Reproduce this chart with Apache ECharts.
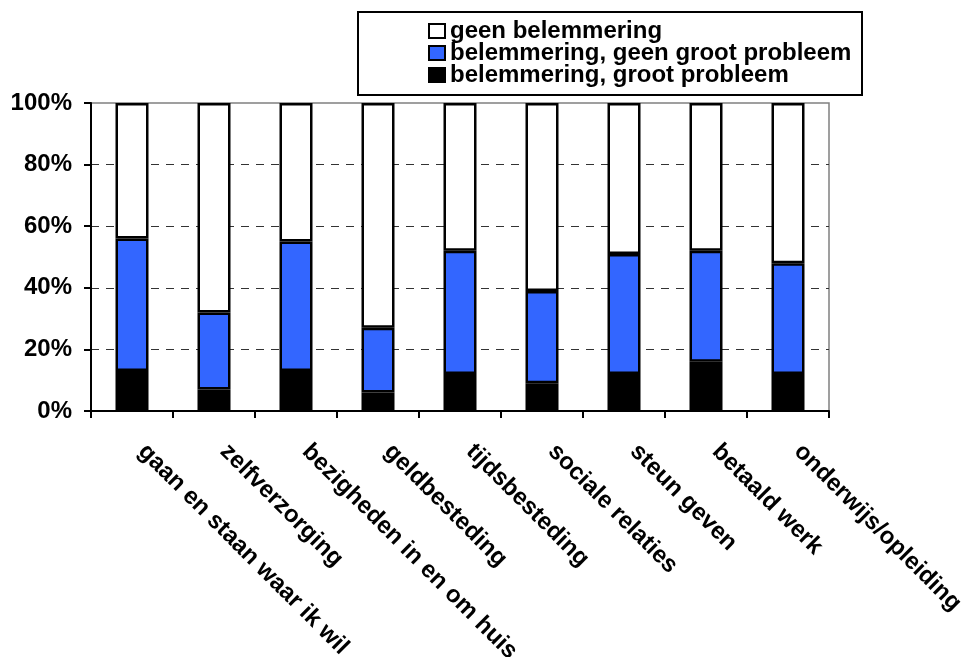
<!DOCTYPE html>
<html><head><meta charset="utf-8">
<script src="https://cdn.jsdelivr.net/npm/echarts@6/dist/echarts.min.js"></script>
<style>html,body{margin:0;padding:0;background:#fff}#c{width:964px;height:657px}</style>
</head><body><div id="c"></div>
<script>
const categories = ['gaan en staan waar ik wil','zelfverzorging','bezigheden in en om huis','geldbesteding','tijdsbesteding','sociale relaties','steun geven','betaald werk','onderwijs/opleiding'];
const grootProbleem = [13, 7, 13, 6, 12, 9, 12, 16, 12];
const geenGrootProbleem = [43, 25, 42, 21, 40, 30, 39, 36, 36];
const geenBelemmering = [44, 68, 45, 73, 48, 61, 49, 48, 52];
const yTicks = [0, 20, 40, 60, 80, 100];
const seriesNames = ['geen belemmering','belemmering, geen groot probleem','belemmering, groot probleem'];

const font = 'Liberation Sans, Arial, sans-serif';
const chart = echarts.init(document.getElementById('c'));
const barStyle = (c) => ({color: c, borderColor: '#000', borderWidth: 2.5});
chart.setOption({
  animation: false,
  grid: {left: 91, right: 135, top: 103, bottom: 246, show: true, borderColor: '#808080', borderWidth: 1.5, backgroundColor: 'transparent', outerBoundsMode: 'none', containLabel: false},
  legend: {
    orient: 'vertical', left: 428, top: 19, itemWidth: 16, itemHeight: 14, itemGap: -2, icon: 'rect',
    data: seriesNames,
    textStyle: {fontFamily: font, fontWeight: 'bold', fontSize: 24, color: '#000', lineHeight: 22},
    padding: 0
  },
  graphic: [{type: 'rect', shape: {x: 358, y: 12, width: 504, height: 83}, style: {fill: 'none', stroke: '#000', lineWidth: 2}, z: 0}],
  xAxis: {
    type: 'category', data: categories, boundaryGap: true,
    axisLine: {lineStyle: {color: '#000', width: 2}},
    axisTick: {show: true, length: 7, lineStyle: {color: '#000', width: 2}},
    axisLabel: {rotate: -45, margin: 27, fontFamily: font, fontWeight: 'bold', fontSize: 24, color: '#000', interval: 0, padding: [0,0,0,14]}
  },
  yAxis: {
    type: 'value', min: yTicks[0], max: yTicks[yTicks.length-1], interval: 20,
    axisLine: {show: true, lineStyle: {color: '#000', width: 2}},
    axisTick: {show: true, length: 7, lineStyle: {color: '#000', width: 2}},
    axisLabel: {formatter: '{value}%', margin: 19, fontFamily: font, fontWeight: 'bold', fontSize: 24, color: '#000'},
    splitLine: {show: true, showMaxLine: false, showMinLine: false, lineStyle: {color: '#333', width: 1.2, type: [8, 7]}}
  },
  series: [
    {name: seriesNames[2], type: 'bar', stack: 's', data: grootProbleem, barWidth: 33, itemStyle: barStyle('#000000')},
    {name: seriesNames[1], type: 'bar', stack: 's', data: geenGrootProbleem, barWidth: 33, itemStyle: barStyle('#3366ff')},
    {name: seriesNames[0], type: 'bar', stack: 's', data: geenBelemmering, barWidth: 33, itemStyle: barStyle('#ffffff')}
  ]
});
</script></body></html>
